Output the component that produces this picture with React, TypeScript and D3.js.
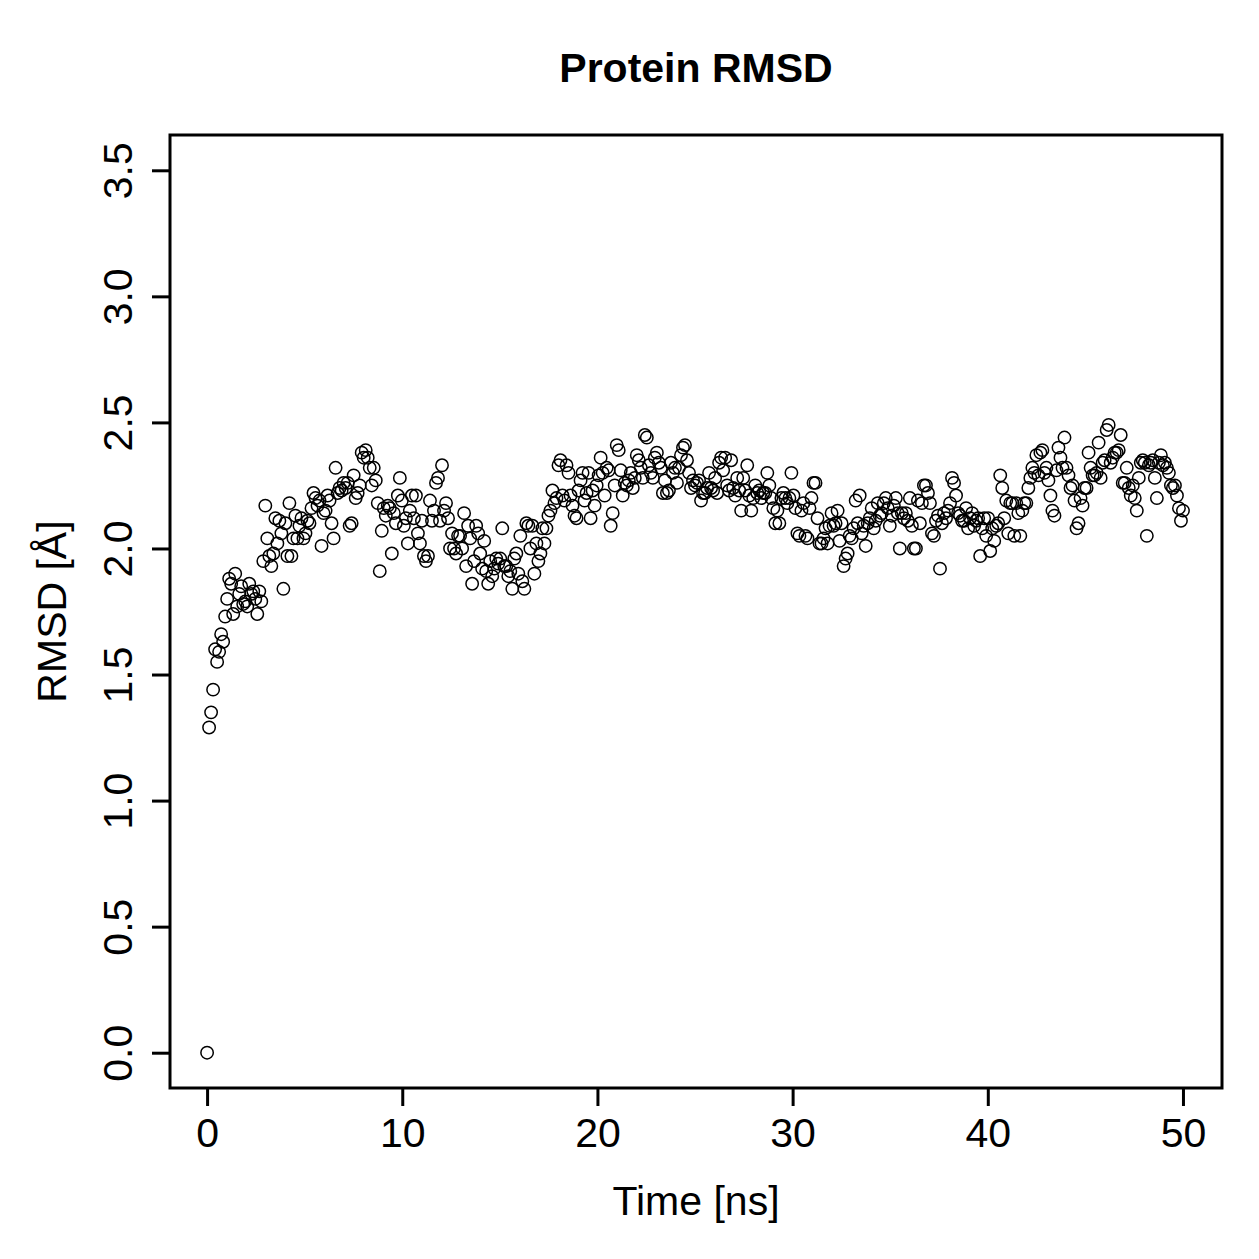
import { useEffect, useRef } from 'react'
import * as d3 from 'd3'

// Backbone RMSD per frame (Å), frames evenly spaced over the run
const rmsd: number[] = [
  0.00, 1.29, 1.35, 1.44, 1.60, 1.55, 1.59, 1.66, 1.63, 1.73,
  1.80, 1.88, 1.86, 1.74, 1.90, 1.77, 1.82, 1.85, 1.78, 1.79,
  1.77, 1.86, 1.82, 1.83, 1.80, 1.74, 1.83, 1.79, 1.95, 2.17,
  2.04, 1.97, 1.93, 1.98, 2.12, 2.02, 2.11, 2.06, 1.84, 2.10,
  1.97, 2.18, 1.97, 2.04, 2.13, 2.04, 2.09, 2.12, 2.04, 2.06,
  2.11, 2.10, 2.16, 2.22, 2.20, 2.17, 2.19, 2.01, 2.14, 2.15,
  2.21, 2.19, 2.10, 2.04, 2.32, 2.22, 2.24, 2.23, 2.26, 2.24,
  2.26, 2.09, 2.10, 2.29, 2.20, 2.22, 2.25, 2.38, 2.36, 2.39,
  2.36, 2.32, 2.25, 2.32, 2.27, 2.18, 1.91, 2.07, 2.16, 2.13,
  2.17, 2.16, 1.98, 2.14, 2.10, 2.21, 2.28, 2.19, 2.09, 2.12,
  2.02, 2.15, 2.21, 2.12, 2.21, 2.06, 2.02, 2.11, 1.97, 1.95,
  1.97, 2.19, 2.11, 2.15, 2.26, 2.28, 2.11, 2.33, 2.15, 2.18,
  2.12, 2.00, 2.06, 2.00, 1.98, 2.05, 2.05, 2.00, 2.14, 1.93,
  2.09, 2.04, 1.86, 1.95, 2.09, 2.06, 1.98, 1.92, 2.03, 1.91,
  1.86, 1.95, 1.89, 1.92, 1.96, 1.94, 1.96, 2.08, 1.93, 1.93,
  1.89, 1.91, 1.84, 1.96, 1.98, 1.90, 2.05, 1.87, 1.84, 2.10,
  2.09, 2.00, 2.09, 1.90, 2.02, 1.95, 1.98, 2.08, 2.02, 2.08,
  2.13, 2.15, 2.23, 2.18, 2.20, 2.33, 2.35, 2.21, 2.19, 2.33,
  2.30, 2.21, 2.17, 2.13, 2.12, 2.23, 2.27, 2.30, 2.19, 2.22,
  2.30, 2.12, 2.23, 2.17, 2.25, 2.29, 2.36, 2.30, 2.21, 2.32,
  2.31, 2.09, 2.14, 2.25, 2.41, 2.39, 2.31, 2.21, 2.26, 2.25,
  2.27, 2.30, 2.24, 2.28, 2.37, 2.35, 2.32, 2.28, 2.45, 2.44,
  2.33, 2.30, 2.28, 2.36, 2.38, 2.34, 2.32, 2.22, 2.27, 2.22,
  2.23, 2.34, 2.30, 2.32, 2.26, 2.32, 2.37, 2.40, 2.41, 2.35,
  2.30, 2.24, 2.27, 2.25, 2.26, 2.27, 2.19, 2.22, 2.22, 2.24,
  2.30, 2.24, 2.23, 2.28, 2.22, 2.34, 2.36, 2.31, 2.36, 2.25,
  2.23, 2.35, 2.24, 2.21, 2.28, 2.23, 2.15, 2.28, 2.23, 2.33,
  2.21, 2.15, 2.20, 2.25, 2.22, 2.23, 2.20, 2.22, 2.22, 2.30,
  2.25, 2.20, 2.16, 2.10, 2.15, 2.10, 2.20, 2.22, 2.20, 2.18,
  2.20, 2.30, 2.21, 2.16, 2.06, 2.05, 2.15, 2.18, 2.05, 2.04,
  2.16, 2.20, 2.26, 2.26, 2.12, 2.02, 2.02, 2.04, 2.08, 2.02,
  2.09, 2.14, 2.09, 2.10, 2.15, 2.03, 2.10, 1.93, 1.96, 1.98,
  2.05, 2.04, 2.08, 2.19, 2.10, 2.21, 2.06, 2.09, 2.01, 2.10,
  2.12, 2.16, 2.08, 2.11, 2.18, 2.13, 2.14, 2.18, 2.20, 2.16,
  2.09, 2.13, 2.17, 2.20, 2.14, 2.00, 2.14, 2.12, 2.14, 2.11,
  2.20, 2.09, 2.00, 2.00, 2.19, 2.10, 2.18, 2.25, 2.25, 2.22,
  2.18, 2.06, 2.05, 2.11, 2.13, 1.92, 2.10, 2.14, 2.12, 2.15,
  2.18, 2.28, 2.26, 2.21, 2.14, 2.13, 2.11, 2.11, 2.16, 2.08,
  2.12, 2.14, 2.09, 2.11, 2.12, 1.97, 2.08, 2.12, 2.05, 2.12,
  1.99, 2.08, 2.03, 2.09, 2.10, 2.29, 2.24, 2.12, 2.19, 2.06,
  2.18, 2.18, 2.05, 2.18, 2.14, 2.05, 2.15, 2.18, 2.18, 2.24,
  2.28, 2.32, 2.30, 2.37, 2.29, 2.38, 2.39, 2.30, 2.32, 2.27,
  2.21, 2.15, 2.13, 2.31, 2.40, 2.36, 2.32, 2.44, 2.32, 2.29,
  2.24, 2.25, 2.19, 2.08, 2.10, 2.20, 2.17, 2.24, 2.24, 2.38,
  2.32, 2.29, 2.29, 2.30, 2.42, 2.28, 2.34, 2.35, 2.47, 2.49,
  2.34, 2.36, 2.38, 2.38, 2.39, 2.45, 2.26, 2.26, 2.32, 2.24,
  2.21, 2.25, 2.20, 2.15, 2.28, 2.34, 2.35, 2.34, 2.05, 2.33,
  2.34, 2.35, 2.28, 2.20, 2.34, 2.37, 2.33, 2.34, 2.32, 2.30,
  2.25, 2.24, 2.25, 2.21, 2.16, 2.11, 2.15,
]

const SIM_LENGTH_NS = 50
const xTicks = [0, 10, 20, 30, 40, 50]
const yTicks = [0, 0.5, 1, 1.5, 2, 2.5, 3, 3.5]

const FONT = '"Liberation Sans", Arial, Helvetica, sans-serif'

export default function App() {
  const svgRef = useRef<SVGSVGElement>(null)

  useEffect(() => {
    if (!svgRef.current) return
    document.body.style.margin = '0'

    const svg = d3.select(svgRef.current)
    svg.selectAll('*').remove()

    const box = { left: 170, right: 1222, top: 135, bottom: 1088 }

    // base-graphics style padding around the data range
    const x = d3.scaleLinear().domain([-1.9, 52.0]).range([box.left, box.right])
    const y = d3.scaleLinear().domain([-0.14, 3.64]).range([box.bottom, box.top])

    const points = rmsd.map((v, i) => ({
      t: (i * SIM_LENGTH_NS) / (rmsd.length - 1),
      v,
    }))

    // points
    svg.append('g')
      .selectAll('circle')
      .data(points)
      .join('circle')
      .attr('cx', d => x(d.t))
      .attr('cy', d => y(d.v))
      .attr('r', 6.2)
      .attr('fill', 'none')
      .attr('stroke', '#000')
      .attr('stroke-width', 1.5)

    // plot frame
    svg.append('rect')
      .attr('x', box.left)
      .attr('y', box.top)
      .attr('width', box.right - box.left)
      .attr('height', box.bottom - box.top)
      .attr('fill', 'none')
      .attr('stroke', '#000')
      .attr('stroke-width', 3)

    // x axis
    const xAxis = svg.append('g')
      .attr('transform', `translate(0, ${box.bottom})`)
      .call(d3.axisBottom(x).tickValues(xTicks).tickSize(18).tickPadding(12).tickFormat(d3.format('d')))
    xAxis.select('.domain').remove()
    xAxis.selectAll('line').attr('stroke-width', 3)
    xAxis.selectAll('text')
      .attr('fill', '#000')
      .style('font-family', FONT)
      .style('font-size', '41px')

    // y axis, labels turned parallel to the axis
    const yAxis = svg.append('g')
      .attr('transform', `translate(${box.left}, 0)`)
      .call(d3.axisLeft(y).tickValues(yTicks).tickSize(18).tickFormat(d3.format('.1f')))
    yAxis.select('.domain').remove()
    yAxis.selectAll('line').attr('stroke-width', 3)
    yAxis.selectAll('text')
      .attr('x', null)
      .attr('dy', null)
      .attr('transform', 'translate(-38, 0) rotate(-90)')
      .attr('text-anchor', 'middle')
      .attr('fill', '#000')
      .style('font-family', FONT)
      .style('font-size', '41px')

    // title and axis titles
    svg.append('text')
      .attr('x', (box.left + box.right) / 2)
      .attr('y', 82)
      .attr('text-anchor', 'middle')
      .style('font-family', FONT)
      .style('font-weight', 'bold')
      .style('font-size', '41px')
      .text('Protein RMSD')

    svg.append('text')
      .attr('x', (box.left + box.right) / 2)
      .attr('y', 1215)
      .attr('text-anchor', 'middle')
      .style('font-family', FONT)
      .style('font-size', '41px')
      .text('Time [ns]')

    svg.append('text')
      .attr('transform', `translate(66, ${(box.top + box.bottom) / 2}) rotate(-90)`)
      .attr('text-anchor', 'middle')
      .style('font-family', FONT)
      .style('font-size', '41px')
      .text('RMSD [Å]')
  }, [])

  return (
    <div style={{ width: 1259, height: 1259, background: '#fff' }}>
      <svg ref={svgRef} width={1259} height={1259} style={{ display: 'block' }} />
    </div>
  )
}
